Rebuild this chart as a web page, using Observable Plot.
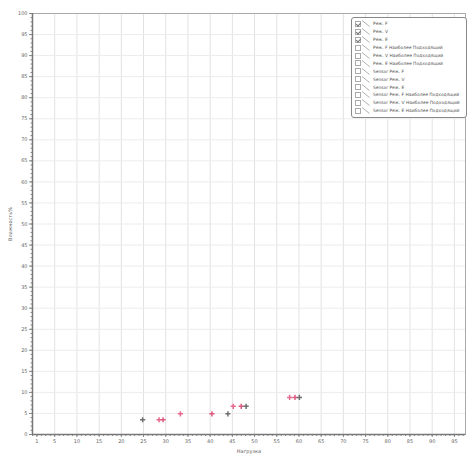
<!DOCTYPE html>
<html>
<head>
<meta charset="utf-8">
<script src="https://cdn.jsdelivr.net/npm/d3@7"></script>
<script src="https://cdn.jsdelivr.net/npm/@observablehq/plot@0.6"></script>
<style>
  body { margin: 0; background: #fff; font-family: "DejaVu Sans", sans-serif; }
  #wrap { position: relative; width: 470px; height: 455px; }
  #legend { position: absolute; left: 351px; top: 17px; width: 116px; height: 101px;
    border: 1px solid #888; border-radius: 3px; background: #fff; box-sizing: border-box;
    padding: 2px 1px 2px 3px; font-size: 4.4px; color: #555; }
  .row { display: flex; align-items: center; height: 7.9px; white-space: nowrap; }
  .cb { width: 6px; height: 6px; border: 1px solid #aaa; margin-right: 0px; box-sizing: border-box; position: relative; flex: none; }
  .cb.on::after { content: ""; position: absolute; left: 1.2px; top: 0px; width: 1.5px; height: 2.8px; border: solid #666; border-width: 0 1px 1px 0; transform: rotate(45deg); }
  .ln { width: 9px; height: 7px; flex: none; margin-right: 3px; }
</style>
</head>
<body>
<div id="wrap">
  <div id="chart"></div>
  <div id="legend"></div>
</div>
<script>
// Series names (legend entries)
const legendNames = [
  "Реж. F", "Реж. V", "Реж. E",
  "Реж. F Наиболее Подходящий", "Реж. V Наиболее Подходящий", "Реж. E Наиболее Подходящий",
  "Sensor Реж. F", "Sensor Реж. V", "Sensor Реж. E",
  "Sensor Реж. F Наиболее Подходящий", "Sensor Реж. V Наиболее Подходящий", "Sensor Реж. E Наиболее Подходящий"
];
const legendChecked = [true, true, true, false, false, false, false, false, false, false, false, false];

// Data series
const seriesNames = ["Реж. F", "Реж. V", "Реж. E"];
const seriesColors = ["#e66a8f", "#de5a80", "#707070"];
const xF = [28.5, 33.3, 45.2, 57.9];
const yF = [3.5, 4.9, 6.7, 8.8];
const xV = [29.4, 40.4, 47.0, 59.1];
const yV = [3.5, 4.9, 6.7, 8.8];
const xE = [24.8, 44.0, 48.1, 60.1];
const yE = [3.5, 4.9, 6.7, 8.8];

// Axis ticks
const xTickLabels = [1, 5, 10, 15, 20, 25, 30, 35, 40, 45, 50, 55, 60, 65, 70, 75, 80, 85, 90, 95];
const yTickLabels = [0, 5, 10, 15, 20, 25, 30, 35, 40, 45, 50, 55, 60, 65, 70, 75, 80, 85, 90, 95, 100];
const xGrid = [5, 10, 15, 20, 25, 30, 35, 40, 45, 50, 55, 60, 65, 70, 75, 80, 85, 90, 95];
const yGrid = [5, 10, 15, 20, 25, 30, 35, 40, 45, 50, 55, 60, 65, 70, 75, 80, 85, 90, 95];
const xMinor = d3.range(0, 98, 1);
const yMinor = d3.range(0, 101, 1);

const points = [];
[[xF, yF], [xV, yV], [xE, yE]].forEach(([xs, ys], i) => {
  xs.forEach((x, j) => points.push({ series: seriesNames[i], x, y: ys[j] }));
});

const chart = Plot.plot({
  width: 470, height: 455,
  marginLeft: 32, marginRight: 5, marginTop: 13, marginBottom: 21,
  style: { fontFamily: "DejaVu Sans", fontSize: "5px", color: "#555", background: "#fff" },
  x: { domain: [0, 97.5] },
  y: { domain: [0, 100] },
  color: { domain: seriesNames, range: seriesColors },
  marks: [
    Plot.gridX(xGrid, { stroke: "#e2e2e2", strokeOpacity: 1 }),
    Plot.gridY(yGrid, { stroke: "#ececec", strokeOpacity: 1 }),
    Plot.frame({ stroke: "#aaa" }),
    Plot.axisX(xMinor, { tickSize: 2, text: null, label: null, stroke: "#888" }),
    Plot.axisX(xTickLabels, { tickSize: 3, tickPadding: 2, stroke: "#888", fill: "#666",
      label: "Нагрузка", labelAnchor: "center", labelArrow: "none", labelOffset: 18 }),
    Plot.axisY(yMinor, { tickSize: 1.5, text: null, label: null, stroke: "#888" }),
    Plot.axisY(yTickLabels, { tickSize: 3, tickPadding: 2, stroke: "#888", fill: "#666",
      label: "Влажность%", labelAnchor: "center", labelArrow: "none", labelOffset: 24 }),
    Plot.ruleX([0], { stroke: "#777", strokeWidth: 1.5 }),
    Plot.ruleY([0], { stroke: "#777", strokeWidth: 1.5 }),
    Plot.dot(points, { x: "x", y: "y", stroke: "series", symbol: "plus", r: 1.8, strokeWidth: 1.5 })
  ]
});
document.getElementById("chart").appendChild(chart);

const legend = document.getElementById("legend");
legendNames.forEach((name, i) => {
  const row = document.createElement("div");
  row.className = "row";
  row.innerHTML = `<span class="cb${legendChecked[i] ? " on" : ""}"></span>` +
    `<svg class="ln" viewBox="0 0 9 7"><line x1="1" y1="0.5" x2="8.5" y2="6.5" stroke="#999" stroke-width="0.8"/></svg>` +
    `<span>${name}</span>`;
  legend.appendChild(row);
});
</script>
</body>
</html>
